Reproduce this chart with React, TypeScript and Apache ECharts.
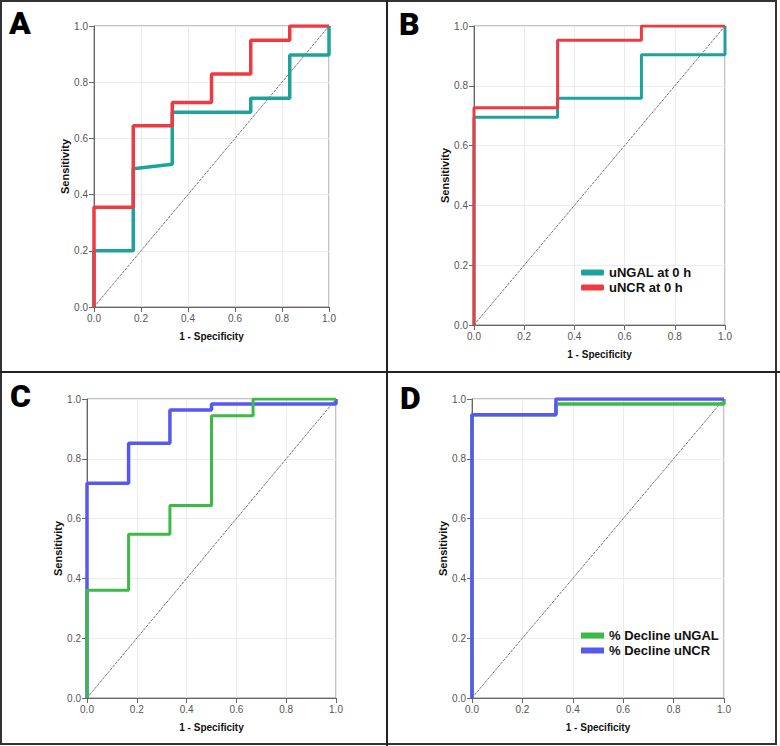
import React, { useEffect, useRef } from "react";
import * as echarts from "echarts";

// ---- data (1 - specificity / sensitivity) ----
const panelLetters = ["A", "B", "C", "D"];

const aNgalX = [0, 0, 0.167, 0.167, 0.333, 0.333, 0.667, 0.667, 0.833, 0.833, 1, 1];
const aNgalY = [0, 0.2, 0.2, 0.492, 0.508, 0.693, 0.693, 0.743, 0.743, 0.897, 0.897, 1];
const aNcrX = [0, 0, 0.167, 0.167, 0.333, 0.333, 0.5, 0.5, 0.667, 0.667, 0.833, 0.833, 1];
const aNcrY = [0, 0.355, 0.355, 0.645, 0.645, 0.728, 0.728, 0.829, 0.829, 0.949, 0.949, 1, 1];

const bNgalX = [0, 0, 0.333, 0.333, 0.667, 0.667, 1, 1];
const bNgalY = [0, 0.695, 0.695, 0.758, 0.758, 0.904, 0.904, 1];
const bNcrX = [0, 0, 0.333, 0.333, 0.667, 0.667, 1];
const bNcrY = [0, 0.727, 0.727, 0.952, 0.952, 1, 1];

const cNcrX = [0, 0, 0.167, 0.167, 0.333, 0.333, 0.5, 0.5, 1, 1];
const cNcrY = [0, 0.718, 0.718, 0.852, 0.852, 0.963, 0.963, 0.983, 0.983, 1];
const cNgalX = [0, 0, 0.167, 0.167, 0.333, 0.333, 0.5, 0.5, 0.667, 0.667, 1];
const cNgalY = [0, 0.36, 0.36, 0.548, 0.548, 0.644, 0.644, 0.944, 0.944, 1, 1];

const dNgalX = [0, 0, 0.333, 0.333, 1, 1];
const dNgalY = [0, 0.947, 0.947, 0.983, 0.983, 1];
const dNcrX = [0, 0, 0.333, 0.333, 1];
const dNcrY = [0, 0.947, 0.947, 1, 1];

const refX = [0, 1];
const refY = [0, 1];

const legendB = ["uNGAL at 0 h", "uNCR at 0 h"];
const legendD = ["% Decline uNGAL", "% Decline uNCR"];

const TEAL = "#1ea39c";
const RED = "#ee3b43";
const GREEN = "#3cba46";
const BLUE = "#5757f2";

const zip = (xs: number[], ys: number[]) => xs.map((x, i) => [x, ys[i]]);

export default function App() {
  const ref = useRef<HTMLDivElement>(null);
  useEffect(() => {
    document.body.style.margin = "0";
    if (!ref.current) return;
    const chart = echarts.init(ref.current, null, { renderer: "svg" });

    const grids = [
      { left: 94, top: 26, width: 235, height: 281 },
      { left: 474, top: 26, width: 251, height: 299 },
      { left: 87, top: 399, width: 249, height: 299 },
      { left: 472, top: 399, width: 252, height: 299 },
    ];

    const tickFont = {
      color: "#555",
      fontSize: 10,
      fontFamily: "'Liberation Sans Narrow', 'Arial Narrow', 'Liberation Sans', sans-serif",
      formatter: (v: number) => v.toFixed(1),
    };
    const nameStyleX = {
      color: "#111",
      fontSize: 10,
      fontWeight: "bold" as const,
      fontFamily: "'Liberation Sans', Arial, sans-serif",
    };
    const nameStyleY = { ...nameStyleX, fontSize: 11 };
    const common = {
      type: "value" as const,
      min: 0,
      max: 1,
      interval: 0.2,
      axisLine: { show: true, lineStyle: { color: "#666", width: 1 } },
      axisTick: { show: true, length: 5, lineStyle: { color: "#666" } },
      splitLine: { show: true, lineStyle: { color: "#ececec", width: 1 } },
    };

    const xAxis = grids.map((_, i) => ({
      ...common,
      gridIndex: i,
      name: "1 - Specificity",
      nameLocation: "middle" as const,
      nameGap: 24,
      nameTextStyle: nameStyleX,
      axisLabel: { ...tickFont, margin: 6 },
    }));
    const yAxis = grids.map((_, i) => ({
      ...common,
      gridIndex: i,
      name: "Sensitivity",
      nameLocation: "middle" as const,
      nameGap: 19,
      nameTextStyle: nameStyleY,
      axisLabel: { ...tickFont, margin: 6 },
    }));

    const refLine = (i: number) => ({
      type: "line" as const,
      name: "ref" + i,
      xAxisIndex: i,
      yAxisIndex: i,
      data: zip(refX, refY),
      showSymbol: false,
      symbol: "none",
      silent: true,
      lineStyle: { color: "#555", width: 0.8, type: [3, 1] as any },
      z: 1,
    });
    const curve = (i: number, name: string, xs: number[], ys: number[], color: string, width: number, z: number) => ({
      type: "line" as const,
      name,
      xAxisIndex: i,
      yAxisIndex: i,
      data: zip(xs, ys),
      symbol: "none",
      showSymbol: false,
      color,
      lineStyle: { color, width },
      z,
    });

    const series = [
      refLine(0), refLine(1), refLine(2), refLine(3),
      curve(0, "uNGAL", aNgalX, aNgalY, TEAL, 3.5, 2),
      curve(0, "uNCR", aNcrX, aNcrY, RED, 3.5, 3),
      curve(1, legendB[0], bNgalX, bNgalY, TEAL, 3, 2),
      curve(1, legendB[1], bNcrX, bNcrY, RED, 3, 3),
      curve(2, "C uNCR", cNcrX, cNcrY, BLUE, 3.5, 2),
      curve(2, "C uNGAL", cNgalX, cNgalY, GREEN, 3, 3),
      curve(3, legendD[0], dNgalX, dNgalY, GREEN, 3.5, 2),
      curve(3, legendD[1], dNcrX, dNcrY, BLUE, 3.5, 3),
    ];

    const legendText = {
      color: "#111",
      fontSize: 13,
      fontWeight: "bold" as const,
      fontFamily: "'Liberation Sans', Arial, sans-serif",
    };
    const legend = [
      {
        data: legendB,
        left: 576,
        top: 261,
        orient: "vertical" as const,
        icon: "roundRect",
        itemWidth: 23,
        itemHeight: 6,
        itemGap: 2,
        textStyle: legendText,
        selectedMode: false,
      },
      {
        data: legendD,
        left: 576,
        top: 624,
        orient: "vertical" as const,
        icon: "rect",
        itemWidth: 23,
        itemHeight: 6,
        itemGap: 2,
        textStyle: legendText,
        selectedMode: false,
      },
    ];

    const letterPos = [
      [9, 7],
      [399, 8],
      [10, 380],
      [400, 382],
    ];
    const graphic: any[] = [
      {
        type: "rect",
        shape: { x: 1, y: 1, width: 775, height: 743 },
        style: { fill: "none", stroke: "#333", lineWidth: 2 },
        silent: true,
      },
      {
        type: "line",
        shape: { x1: 387, y1: 0, x2: 387, y2: 746 },
        style: { stroke: "#222", lineWidth: 2 },
        silent: true,
      },
      {
        type: "line",
        shape: { x1: 0, y1: 372, x2: 780, y2: 372 },
        style: { stroke: "#222", lineWidth: 2 },
        silent: true,
      },
      ...panelLetters.map((t, i) => ({
        type: "text",
        x: letterPos[i][0],
        y: letterPos[i][1],
        style: {
          text: t,
          fill: "#000",
          font: "900 32px 'Roboto', 'DejaVu Sans', sans-serif",
        },
        silent: true,
      })),
    ];

    chart.setOption({
      animation: false,
      backgroundColor: "#fff",
      grid: grids.map((g) => ({ ...g, show: true, borderColor: "#888", borderWidth: 1, backgroundColor: "transparent" })),
      xAxis,
      yAxis,
      series,
      legend,
      graphic,
    });
    return () => chart.dispose();
  }, []);
  return <div ref={ref} style={{ width: 780, height: 746 }} />;
}
